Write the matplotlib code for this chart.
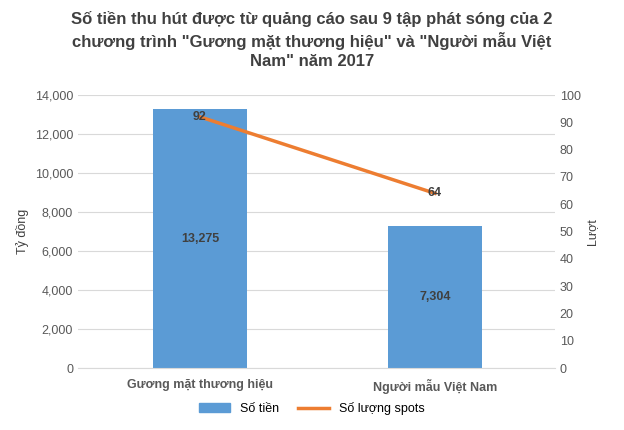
import matplotlib.pyplot as plt
from matplotlib.lines import Line2D
from matplotlib.patches import Patch

plt.rcParams['font.family'] = ['Liberation Sans', 'DejaVu Sans']

categories = ['Gương mặt thương hiệu', 'Người mẫu Việt Nam']
money = [13275, 7304]
spots = [92, 64]
money_labels = ['13,275', '7,304']

fig = plt.figure(figsize=(6.24, 4.3), dpi=100)
ax = fig.add_axes([0.125, 0.144, 0.764, 0.635])
ax2 = ax.twinx()

x = [0, 1]
ax.bar(x, money, width=0.40, color='#5B9BD5', zorder=2)
ax.set_xlim(-0.519, 1.51)
ax.set_ylim(0, 14000)
ax.set_yticks(range(0, 14001, 2000))
ax.set_yticklabels([f'{v:,}' for v in range(0, 14001, 2000)])
ax.grid(axis='y', color='#D9D9D9', linewidth=0.8, zorder=0)
ax.set_xticks(x)
ax.set_xticklabels(categories, fontsize=10, fontweight='bold', color='#404040')
ax.set_ylabel('Tỷ đồng', fontsize=9, color='#404040')
for i, v in enumerate(money):
    ax.text(x[i], v / 2, money_labels[i], ha='center', va='center',
            fontsize=9, fontweight='bold', color='#404040', zorder=3)

ax2.plot(x, spots, color='#ED7D31', linewidth=2.5, zorder=3)
ax2.set_ylim(0, 100)
ax2.set_yticks(range(0, 101, 10))
ax2.set_ylabel('Lượt', fontsize=9, color='#404040')
for i, v in enumerate(spots):
    ax2.text(x[i], v, str(v), ha='center', va='center',
             fontsize=9, fontweight='bold', color='#404040')

for a in (ax, ax2):
    for s in a.spines.values():
        s.set_visible(False)
    a.tick_params(length=0, labelsize=9, colors='#595959')
ax.spines['bottom'].set_visible(True)
ax.spines['bottom'].set_color('#D9D9D9')
ax.tick_params(axis='x', pad=8)

fig.text(0.5, 0.975, 'Số tiền thu hút được từ quảng cáo sau 9 tập phát sóng của 2\n'
         'chương trình "Gương mặt thương hiệu" và "Người mẫu Việt\n'
         'Nam" năm 2017', ha='center', va='top', fontsize=12,
         fontweight='bold', color='#404040', linespacing=1.35)

handles = [Patch(color='#5B9BD5'), Line2D([], [], color='#ED7D31', linewidth=2.5)]
fig.legend(handles, ['Số tiền', 'Số lượng spots'], loc='center',
           bbox_to_anchor=(0.5, 0.05), ncol=2, frameon=False, fontsize=9,
           handlelength=2.5, columnspacing=1.5)

fig.savefig('out.png', dpi=100)
